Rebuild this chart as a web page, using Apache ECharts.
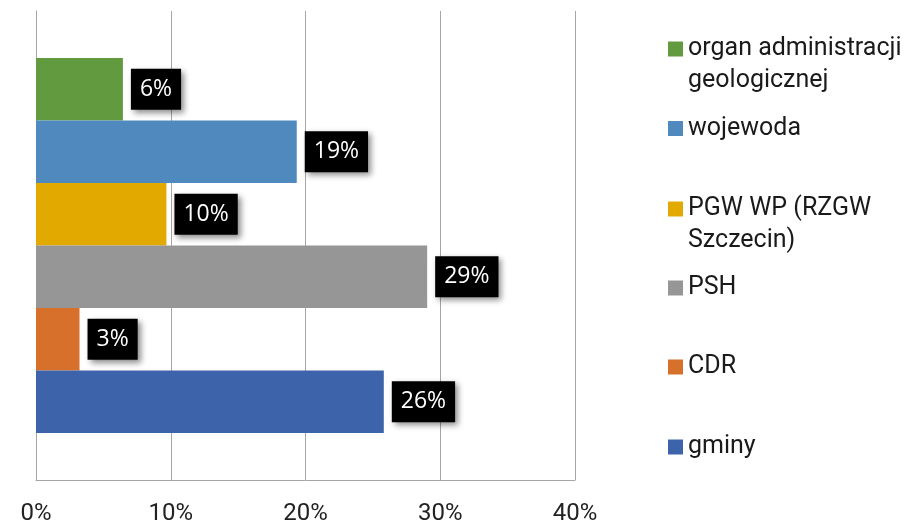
<!DOCTYPE html>
<html>
<head>
<meta charset="utf-8">
<script src="https://cdn.jsdelivr.net/npm/echarts@6/dist/echarts.min.js"></script>
<style>
  html, body { margin: 0; padding: 0; background: #fff; }
  #bar { width: 921px; height: 523px; }
</style>
</head>
<body>
<div id="bar"></div>
<script>
// series order = top to bottom in the chart
const names = ['organ administracji geologicznej', 'wojewoda', 'PGW WP (RZGW Szczecin)', 'PSH', 'CDR', 'gminy'];
const legendLabels = ['organ administracji\ngeologicznej', 'wojewoda', 'PGW WP (RZGW\nSzczecin)', 'PSH', 'CDR', 'gminy'];
const values = [6.45, 19.35, 9.68, 29.03, 3.23, 25.81];
const colors = ['#629b3f', '#4f89bd', '#e2aa00', '#969696', '#d6702b', '#3d64ab'];
const xTicks = [0, 10, 20, 30, 40];

const legendCenters = [49, 128.5, 209, 288, 367, 447];
const lh = 32;

let chart1 = echarts.init(document.getElementById('bar'));

// one legend per item so each sits where the reference has it;
// two-line names get an empty first line so the marker lines up with the first text line
let legends = names.map((name, i) => {
	let twoLines = legendLabels[i].indexOf('\n') >= 0;
	return {
		left: 668,
		top: twoLines ? legendCenters[i] - lh * 1.5 : legendCenters[i] - lh / 2,
		padding: 0,
		itemWidth: 15,
		itemHeight: 15,
		icon: 'rect',
		selectedMode: false,
		data: [name],
		formatter: () => (twoLines ? '\n' : '') + legendLabels[i],
		textStyle: {
			fontFamily: 'Roboto',
			fontSize: 25,
			color: '#1a1a1a',
			lineHeight: lh
		}
	};
});

chart1.setOption({
	animation: false,
	legend: legends,
	grid: {
		left: 36,
		right: 346,
		top: 11,
		bottom: 43,
		outerBoundsMode: 'none'
	},
	xAxis: {
		type: 'value',
		min: xTicks[0],
		max: xTicks[xTicks.length - 1],
		interval: 10,
		axisLine: {
			show: true,
			lineStyle: { color: '#a6a6a6', width: 1 }
		},
		axisTick: { show: false },
		axisLabel: {
			formatter: '{value}%',
			margin: 22,
			fontFamily: 'Roboto',
			fontSize: 24,
			color: '#222'
		},
		splitLine: {
			show: true,
			lineStyle: { color: '#a6a6a6', width: 1 }
		}
	},
	yAxis: {
		type: 'category',
		data: [''],
		axisLine: {
			show: true,
			lineStyle: { color: '#a6a6a6', width: 1 }
		},
		axisTick: { show: false },
		axisLabel: { show: false }
	},
	series: names.map((name, i) => ({
		name: name,
		type: 'bar',
		barWidth: 62.5,
		barGap: '0%',
		itemStyle: { color: colors[i] },
		label: {
			show: true,
			position: 'right',
			distance: 8,
			formatter: (p) => Math.round(p.value) + '%',
			fontFamily: 'Open Sans',
			fontSize: 23,
			lineHeight: 27,
			color: '#fff',
			backgroundColor: '#000',
			padding: [7, 9, 7, 9],
			shadowColor: 'rgba(0,0,0,0.45)',
			shadowBlur: 6,
			shadowOffsetX: 3,
			shadowOffsetY: 3
		},
		data: [values[i]]
	}))
});
</script>
</body>
</html>
